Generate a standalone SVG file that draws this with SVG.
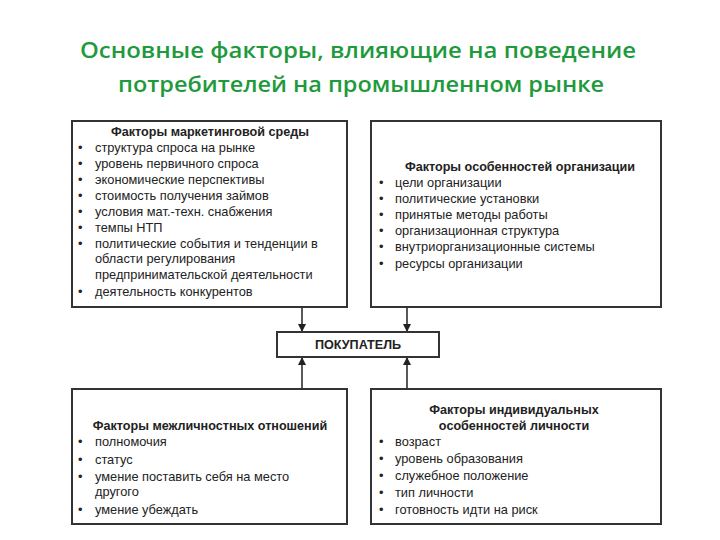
<svg xmlns="http://www.w3.org/2000/svg" width="720" height="540" viewBox="0 0 720 540">
<style>
.t{font-family:"Liberation Sans",Arial,sans-serif;font-size:12.8px;fill:#222}
.h{font-family:"Liberation Sans",Arial,sans-serif;font-size:12.6px;font-weight:bold;fill:#222}
.title{font-family:"Open Sans","Liberation Sans",sans-serif;font-size:22px;font-weight:600;fill:#1e9a3c}
.box{fill:#fff;stroke:#333;stroke-width:2}
.c{stroke:#222;stroke-width:1.5;fill:none}
</style>
<defs><marker id="a" markerWidth="8" markerHeight="10" refX="7" refY="5" orient="auto" markerUnits="userSpaceOnUse"><path d="M0,1 L8,5 L0,9 Z" fill="#222"/></marker></defs>
<rect width="720" height="540" fill="#fff"/>
<text class="title" x="80" y="58" textLength="556" lengthAdjust="spacingAndGlyphs">Основные факторы, влияющие на поведение</text>
<text class="title" x="118" y="92" textLength="486" lengthAdjust="spacingAndGlyphs">потребителей на промышленном рынке</text>
<g id="connectors">
<line class="c" x1="302" y1="307" x2="302" y2="331" marker-end="url(#a)"/>
<line class="c" x1="407" y1="307" x2="407" y2="331" marker-end="url(#a)"/>
<line class="c" x1="302" y1="389" x2="302" y2="358" marker-end="url(#a)"/>
<line class="c" x1="407" y1="389" x2="407" y2="358" marker-end="url(#a)"/>
</g>
<g id="market">
<rect class="box" x="72" y="121" width="275" height="186"/>
<text class="h" x="210" y="136" text-anchor="middle">Факторы маркетинговой среды</text>
<g class="t">
<text x="78" y="152">•</text><text x="95" y="152">структура спроса на рынке</text>
<text x="78" y="168">•</text><text x="95" y="168">уровень первичного спроса</text>
<text x="78" y="184">•</text><text x="95" y="184">экономические перспективы</text>
<text x="78" y="200">•</text><text x="95" y="200">стоимость получения займов</text>
<text x="78" y="216">•</text><text x="95" y="216">условия мат.-техн. снабжения</text>
<text x="78" y="232">•</text><text x="95" y="232">темпы НТП</text>
<text x="78" y="248">•</text><text x="95" y="248">политические события и тенденции в</text>
<text x="95" y="263">области регулирования</text>
<text x="95" y="279">предпринимательской деятельности</text>
<text x="78" y="296">•</text><text x="95" y="296">деятельность конкурентов</text>
</g>
</g>
<g id="org">
<rect class="box" x="371" y="121" width="290" height="186"/>
<text class="h" x="520" y="171" text-anchor="middle">Факторы особенностей организации</text>
<g class="t">
<text x="379" y="187">•</text><text x="395" y="187">цели организации</text>
<text x="379" y="203">•</text><text x="395" y="203">политические установки</text>
<text x="379" y="219">•</text><text x="395" y="219">принятые методы работы</text>
<text x="379" y="235">•</text><text x="395" y="235">организационная структура</text>
<text x="379" y="251">•</text><text x="395" y="251">внутриорганизационные системы</text>
<text x="379" y="268">•</text><text x="395" y="268">ресурсы организации</text>
</g>
</g>
<g id="buyer">
<rect class="box" x="277" y="332" width="162" height="25"/>
<text class="h" x="358" y="349" text-anchor="middle">ПОКУПАТЕЛЬ</text>
</g>
<g id="interpersonal">
<rect class="box" x="72" y="389" width="275" height="135"/>
<text class="h" x="210" y="430" text-anchor="middle">Факторы межличностных отношений</text>
<g class="t">
<text x="78" y="446">•</text><text x="95" y="446">полномочия</text>
<text x="78" y="464">•</text><text x="95" y="464">статус</text>
<text x="78" y="481">•</text><text x="95" y="481">умение поставить себя на место</text>
<text x="95" y="496">другого</text>
<text x="78" y="514">•</text><text x="95" y="514">умение убеждать</text>
</g>
</g>
<g id="individual">
<rect class="box" x="371" y="389" width="290" height="135"/>
<text class="h" x="514" y="414" text-anchor="middle">Факторы индивидуальных</text>
<text class="h" x="514" y="430" text-anchor="middle">особенностей личности</text>
<g class="t">
<text x="379" y="446">•</text><text x="395" y="446">возраст</text>
<text x="379" y="463">•</text><text x="395" y="463">уровень образования</text>
<text x="379" y="480">•</text><text x="395" y="480">служебное положение</text>
<text x="379" y="497">•</text><text x="395" y="497">тип личности</text>
<text x="379" y="514">•</text><text x="395" y="514">готовность идти на риск</text>
</g>
</g>
</svg>
